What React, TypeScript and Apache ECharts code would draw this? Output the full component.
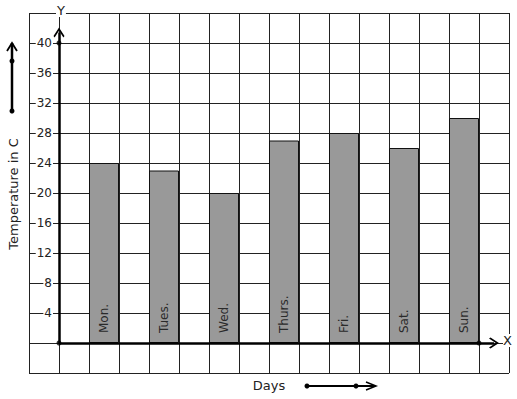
import React, { useEffect, useRef } from "react";
import * as echarts from "echarts";

const days = ["Mon.", "Tues.", "Wed.", "Thurs.", "Fri.", "Sat.", "Sun."];
const temperatures = [24, 23, 20, 27, 28, 26, 30];
const yMin = -4;
const yMax = 44;
const yStep = 4;
const xCellsMin = -1;
const xCellsMax = 15;
const axisDots: [number, number][] = [[0, 0], [0, 40], [14, 0]];

const FONT = "DejaVu Sans";
const chevron = "path://M0,0 L6,8 L4.8,9.4 L0,3 L-4.8,9.4 L-6,8 Z";

export default function App() {
  const ref = useRef<HTMLDivElement>(null);
  useEffect(() => {
    if (!ref.current) return;
    const chart = echarts.init(ref.current, undefined, { renderer: "svg" });
    chart.setOption({
      animation: false,
      backgroundColor: "#fff",
      textStyle: { fontFamily: FONT },
      grid: [
        { left: 29, top: 13, width: 480, height: 360, containLabel: false },
        { left: 74, top: 13, width: 420, height: 360, containLabel: false },
      ],
      xAxis: [
        {
          type: "value",
          gridIndex: 0,
          min: xCellsMin,
          max: xCellsMax,
          interval: 1,
          axisLine: { show: false },
          axisTick: { show: false },
          axisLabel: { show: false },
          splitLine: { show: true, lineStyle: { color: "#222", width: 1 } },
        },
        {
          type: "category",
          gridIndex: 1,
          data: days,
          axisLine: { show: false },
          axisTick: { show: false },
          axisLabel: { show: false },
          splitLine: { show: false },
        },
      ],
      yAxis: [
        {
          type: "value",
          gridIndex: 0,
          min: yMin,
          max: yMax,
          interval: yStep,
          offset: -30,
          axisLine: { show: false, onZero: false },
          axisTick: { show: false },
          axisLabel: {
            show: true,
            margin: 6,
            fontSize: 12,
            fontFamily: FONT,
            color: "#222",
            backgroundColor: "#fff",
            padding: [0, 1],
            formatter: (v: number) => (v > 0 && v <= 40 ? String(v) : ""),
          },
          splitLine: { show: true, lineStyle: { color: "#222", width: 1 } },
        },
        {
          type: "value",
          gridIndex: 1,
          min: yMin,
          max: yMax,
          interval: yStep,
          show: false,
          splitLine: { show: false },
        },
      ],
      series: [
        {
          type: "bar",
          xAxisIndex: 1,
          yAxisIndex: 1,
          data: temperatures,
          barWidth: 30,
          itemStyle: { color: "#999999", borderColor: "#111", borderWidth: 1 },
          label: {
            show: true,
            position: "insideBottom",
            rotate: 90,
            align: "left",
            verticalAlign: "middle",
            distance: 10,
            fontSize: 12,
            fontFamily: FONT,
            color: "#2a2a2a",
            formatter: (p: any) => days[p.dataIndex],
          },
          silent: true,
        },
        {
          type: "scatter",
          xAxisIndex: 0,
          yAxisIndex: 0,
          data: axisDots,
          symbolSize: 5,
          itemStyle: { color: "#000" },
          z: 5,
          silent: true,
          markLine: {
            silent: true,
            symbol: ["none", chevron],
            symbolSize: [11, 10],
            label: { show: false },
            lineStyle: { color: "#000", width: 2.5, type: "solid" },
            data: [
              [{ coord: [0, 0] }, { coord: [0, 41.4] }],
              [{ coord: [0, 0] }, { coord: [14.5, 0] }],
            ],
          },
        },
      ],
      graphic: [
        {
          type: "text",
          left: 56,
          top: 4,
          z: 10,
          style: {
            text: "Y",
            font: `13px ${FONT}`,
            fill: "#222",
            backgroundColor: "#fff",
            padding: [0, 1],
          },
        },
        {
          type: "text",
          left: 503,
          top: 334,
          z: 10,
          style: {
            text: "X",
            font: `13px ${FONT}`,
            fill: "#222",
            backgroundColor: "#fff",
          },
        },
        {
          type: "text",
          x: 13,
          y: 194,
          rotation: Math.PI / 2,
          style: {
            text: "Temperature in C",
            font: `13px ${FONT}`,
            fill: "#222",
            align: "center",
            verticalAlign: "middle",
          },
        },
        {
          type: "text",
          x: 269,
          y: 385,
          style: {
            text: "Days",
            font: `13px ${FONT}`,
            fill: "#222",
            align: "center",
            verticalAlign: "middle",
          },
        },
        {
          type: "line",
          shape: { x1: 12, y1: 111, x2: 12, y2: 43 },
          style: { stroke: "#000", lineWidth: 2.5 },
        },
        {
          type: "polyline",
          shape: { points: [[7, 51], [12, 43], [17, 51]] },
          style: { stroke: "#000", lineWidth: 1.8, fill: "none" },
        },
        { type: "circle", shape: { cx: 12, cy: 61, r: 2.5 }, style: { fill: "#000" } },
        { type: "circle", shape: { cx: 12, cy: 111, r: 2.5 }, style: { fill: "#000" } },
        {
          type: "line",
          shape: { x1: 307, y1: 386, x2: 375, y2: 386 },
          style: { stroke: "#000", lineWidth: 2 },
        },
        {
          type: "polyline",
          shape: { points: [[366, 382], [376, 386], [366, 390]] },
          style: { stroke: "#000", lineWidth: 1.5, fill: "none" },
        },
        { type: "circle", shape: { cx: 307, cy: 386, r: 2.5 }, style: { fill: "#000" } },
        { type: "circle", shape: { cx: 356, cy: 386, r: 2.5 }, style: { fill: "#000" } },
      ],
    });
    return () => chart.dispose();
  }, []);
  return (
    <div
      ref={ref}
      style={{ position: "fixed", left: 0, top: 0, width: 517, height: 399 }}
    />
  );
}
